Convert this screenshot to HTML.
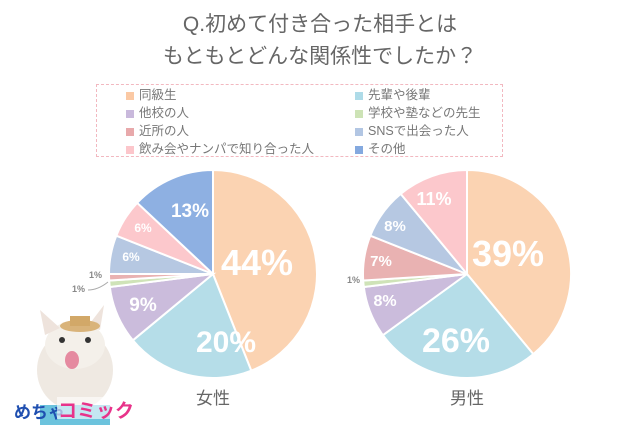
<!DOCTYPE html>
<html><head><meta charset="utf-8">
<style>
body{margin:0;width:640px;height:425px;background:#fff;overflow:hidden;font-family:"Liberation Sans","Noto Sans CJK JP",sans-serif;}
.t{position:absolute;left:0;width:640px;text-align:center;color:#666;font-size:21px;}
.lg{position:absolute;left:96px;top:84px;width:405px;height:71px;border:1px dashed #f2b8c0;}
.li{position:absolute;font-size:12.5px;color:#777;line-height:14px;}
.li i{display:inline-block;width:8px;height:8px;margin-right:5px;vertical-align:-1px;}
</style></head><body>
<div class="t" style="top:8px">Q.初めて付き合った相手とは</div>
<div class="t" style="top:40px">もともとどんな関係性でしたか？</div>
<div class="lg"></div>
<div class="li" style="left:126px;top:88px"><i style="background:#fbc9a4"></i>同級生</div>
<div class="li" style="left:126px;top:106px"><i style="background:#c9b9dc"></i>他校の人</div>
<div class="li" style="left:126px;top:124px"><i style="background:#e8a9ab"></i>近所の人</div>
<div class="li" style="left:126px;top:142px"><i style="background:#fcc6cb"></i>飲み会やナンパで知り合った人</div>
<div class="li" style="left:355px;top:88px"><i style="background:#aedbe8"></i>先輩や後輩</div>
<div class="li" style="left:355px;top:106px"><i style="background:#cde3b6"></i>学校や塾などの先生</div>
<div class="li" style="left:355px;top:124px"><i style="background:#b2c6e3"></i>SNSで出会った人</div>
<div class="li" style="left:355px;top:142px"><i style="background:#84a9df"></i>その他</div>
<svg id="s" width="640" height="425" style="position:absolute;left:0;top:0">
<g id="p"></g>
<g font-family="Liberation Sans, sans-serif" font-weight="bold" fill="#fff" text-anchor="middle">
<text x="257" y="275" font-size="36">44%</text>
<text x="226" y="352" font-size="30">20%</text>
<text x="143" y="311" font-size="19">9%</text>
<text x="131" y="261" font-size="12">6%</text>
<text x="143" y="232" font-size="12">6%</text>
<text x="190" y="217" font-size="19">13%</text>
<text x="508" y="266" font-size="36">39%</text>
<text x="456" y="352" font-size="34">26%</text>
<text x="385" y="306" font-size="16">8%</text>
<text x="381" y="266" font-size="15">7%</text>
<text x="395" y="231" font-size="15">8%</text>
<text x="434" y="205" font-size="18">11%</text>
</g>
<g font-family="Liberation Sans, sans-serif" font-size="9" fill="#888" font-weight="bold">
<text x="89" y="278">1%</text><text x="72" y="292">1%</text><text x="347" y="283">1%</text>
</g>
<path d="M88 290 Q98 290 108 282" stroke="#aaa" fill="none"/>
<text x="213" y="404" font-size="17" fill="#666" text-anchor="middle" font-family="Liberation Sans, Noto Sans CJK JP, sans-serif">女性</text>
<text x="467" y="404" font-size="17" fill="#666" text-anchor="middle" font-family="Liberation Sans, Noto Sans CJK JP, sans-serif">男性</text>
<!-- dog -->
<ellipse cx="75" cy="370" rx="38" ry="40" fill="#efe9e2"/>
<ellipse cx="75" cy="345" rx="30" ry="24" fill="#f4f0ea"/>
<path d="M45 335 L40 310 L60 328 Z M100 330 L104 305 L88 326 Z" fill="#eee3dc"/>
<ellipse cx="80" cy="326" rx="20" ry="6" fill="#d9b37a"/>
<rect x="70" y="316" width="20" height="10" fill="#d2a868"/>
<ellipse cx="72" cy="360" rx="7" ry="9" fill="#e58aa0"/>
<circle cx="62" cy="340" r="3" fill="#333"/><circle cx="88" cy="340" r="3" fill="#333"/>
<rect x="40" y="405" width="70" height="20" fill="#6cc3dd"/>
<text x="14" y="418" font-size="17" font-weight="bold" fill="#1f4fb0" font-family="Liberation Sans, Noto Sans CJK JP, sans-serif">めちゃ</text>
<rect x="57" y="397" width="80" height="22" fill="#fff" opacity="0.6"/>
<text x="58" y="417" font-size="19" font-weight="bold" fill="#e8338a" font-family="Liberation Sans, Noto Sans CJK JP, sans-serif">コミック</text>
</svg>
<script>
var C=['#fbd3b2','#b5dde8','#cbbcdc','#cfe3b8','#e9b2b2','#b6c8e2','#fcc8cc','#8eb0e2'];
function pie(cx,cy,r,vals,cols){var a=0,s='';vals.forEach(function(v,i){var a2=a+v/100*2*Math.PI;
var x1=cx+r*Math.sin(a),y1=cy-r*Math.cos(a),x2=cx+r*Math.sin(a2),y2=cy-r*Math.cos(a2);
s+='<path d="M'+cx+' '+cy+'L'+x1+' '+y1+'A'+r+' '+r+' 0 '+(a2-a>Math.PI?1:0)+' 1 '+x2+' '+y2+'Z" fill="'+cols[i]+'" stroke="#fff" stroke-width="2"/>';a=a2;});return s;}
document.getElementById('p').innerHTML=
pie(213,274,104,[44,20,9,1,1,6,6,13],C)+
pie(467,274,104,[39,26,8,1,7,8,11],[C[0],C[1],C[2],C[3],C[4],C[5],C[6]]);
</script>
</body></html>
